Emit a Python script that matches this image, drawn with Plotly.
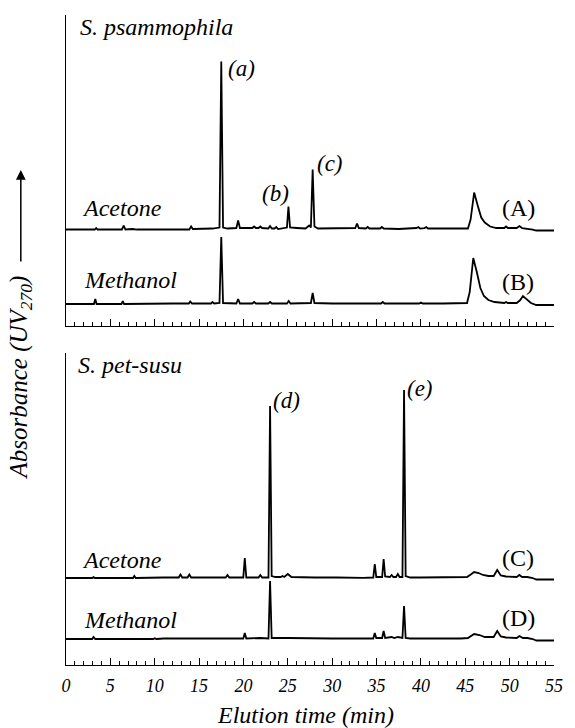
import plotly.graph_objects as go

# ---------------- data (elution time in min, absorbance in arbitrary units above baseline) -------------
acetone_A = [(0, 0), (3.25, 0), (3.4, 1.5), (3.55, 0), (6.3, 0), (6.5, 4), (6.7, 0), (7.5, 0.5), (8.0, 0),
             (10.5, 0.5), (11, 0), (13.9, 0), (14.1, 3), (14.3, 0.5), (15.0, 0.5), (16.0, 0.8), (16.5, 1),
             (17.3, 2), (17.5, 168), (17.7, 2), (18.2, 1), (19.2, 1.5), (19.4, 9), (19.6, 1.5), (20.5, 1.5),
             (21.0, 1.5), (21.2, 3), (21.4, 1.5), (21.7, 1.5), (21.9, 3), (22.1, 1.5), (22.8, 1), (23.0, 3.5),
             (23.2, 1), (23.5, 1), (23.7, 2.5), (23.9, 0.5), (24.4, 1), (24.9, 2), (25.07, 23), (25.25, 2),
             (26.0, 1.5), (27.0, 1), (27.4, 4), (27.6, 2), (27.8, 60), (28.0, 3), (28.4, 1), (29.5, 1),
             (31.0, 1.5), (32.6, 1.5), (32.8, 6), (33.0, 1.5), (33.8, 1), (34.0, 2.5), (34.2, 1), (35.4, 1),
             (35.6, 2.5), (35.8, 1), (37.5, 0.5), (39.5, 1.5), (39.7, 2.5), (39.9, 1), (40.4, 1.5), (40.6, 2.5),
             (40.8, 1), (42.0, 1), (43.2, 1.5), (44.5, 1), (45.3, 1), (45.6, 10), (46.0, 37), (46.4, 24),
             (46.8, 12), (47.2, 7), (47.8, 3), (48.5, 1.5), (49.4, 1.5), (49.6, 3), (49.8, 1.5), (50.8, 1.5),
             (51.1, 3.5), (51.4, 1.5), (52.0, 1), (52.6, 0), (53.0, -1), (55, -1)]

methanol_B = [(0, 0), (3.15, 0), (3.3, 5), (3.45, 0), (6.25, 0), (6.4, 3), (6.55, 0), (9, 0.5), (12, 0.5),
              (13.85, 0.5), (14.0, 2.5), (14.2, 0.5), (16.35, 0.5), (16.5, 2), (16.7, 0.5), (17.3, 1),
              (17.5, 67), (17.7, 1), (18.3, 0.5), (19.2, 0.5), (19.4, 5), (19.6, 0.5), (21.0, 0.5), (21.2, 2),
              (21.4, 0.5), (22.8, 0.5), (23.0, 2), (23.2, 0.5), (24.9, 0.5), (25.1, 3), (25.3, 0.5), (27.6, 1),
              (27.8, 11), (28.0, 1), (30, 0.5), (32.8, 0.5), (33, 0.5), (35.5, 0.5), (35.7, 2), (35.9, 0.5),
              (38, 0.5), (39.8, 0.5), (40.0, 1.5), (40.2, 0.5), (42.5, 0.5), (44.5, 0.5), (45.2, 1),
              (45.5, 12), (45.9, 46), (46.3, 32), (46.7, 16), (47.1, 8), (47.6, 4), (48.3, 2), (49.4, 1),
              (49.6, 2), (49.8, 1), (50.8, 1), (51.2, 4), (51.5, 8), (51.9, 5), (52.4, 1), (53.0, -1), (55, -1)]

acetone_C = [(0, 0), (2.95, 0), (3.1, 1), (3.25, 0), (7.55, 0), (7.7, 2), (7.85, 0), (9.5, 0.5), (10, 0),
             (11, 0.5), (12.7, 0.5), (12.9, 3.5), (13.1, 0.5), (13.7, 0.5), (13.9, 3.5), (14.1, 0.5),
             (15.5, 0.5), (18.0, 0.5), (18.2, 3), (18.4, 0.5), (19.98, 0.5), (20.15, 20), (20.32, 0.5),
             (21.7, 0.5), (21.9, 3), (22.1, 0.5), (22.82, 0.5), (23.0, 172), (23.18, 2), (23.6, 1),
             (24.2, 1), (24.4, 2), (24.6, 1), (25.0, 4), (25.4, 1), (26.5, 0.5), (28, 0.5), (30.5, 0.5),
             (31.5, 0.2), (33.5, 0.2), (34.63, 0.5), (34.8, 14), (34.97, 1), (35.3, 1), (35.63, 1),
             (35.8, 19), (35.97, 1.5), (36.5, 1), (36.7, 3), (36.9, 1), (37.2, 1), (37.4, 4), (37.6, 1),
             (37.92, 1), (38.1, 188), (38.28, 2), (38.8, 0.5), (40, 0.5), (41.5, 0.5), (43, 0.5), (44.5, 0.5),
             (45.2, 1), (45.7, 4), (46.0, 6), (46.5, 5), (47.0, 3), (47.6, 2), (48.2, 2), (48.6, 8),
             (49.0, 2.5), (49.6, 1.5), (50.8, 1), (51.1, 3), (51.4, 1), (52.0, 1), (52.6, 0), (53, -1.5),
             (55, -1.5)]

methanol_D = [(0, 0), (2.95, 0), (3.1, 2), (3.3, 0), (9.8, 0), (10, 0.7), (10.2, 0), (11, 0.5), (14, 0.5),
              (18.2, 1), (19.98, 0.5), (20.15, 6), (20.32, 0.5), (21.9, 1), (22.82, 0.5), (23.0, 58),
              (23.18, 1), (25.0, 1), (27, 0.5), (30, 0.5), (33, 0.5), (34.63, 0.5), (34.8, 6), (34.97, 1),
              (35.63, 1), (35.8, 8), (35.97, 1), (36.7, 2), (37.0, 1), (37.4, 2), (37.92, 1), (38.1, 33),
              (38.28, 1), (38.8, 0.5), (44.5, 0.5), (45.3, 1), (46.0, 5), (46.6, 4), (47.2, 2), (48.2, 2),
              (48.6, 8), (49.0, 2.5), (49.6, 1.5), (50.8, 1), (51.1, 3), (51.5, 1), (52.0, 1), (52.6, 0),
              (53, -1.5), (55, -1.5)]

major_ticks = [0, 5, 10, 15, 20, 25, 30, 35, 40, 45, 50, 55]
tick_labels = ["0", "5", "10", "15", "20", "25", "30", "35", "40", "45", "50", "55"]

# vertical stacking offsets of the traces in each panel
OFF_A, OFF_B = 96.5, 22
OFF_C, OFF_D = 87, 26

FONT = "Liberation Serif, Times New Roman, Times, serif"

fig = go.Figure()
for pts, off, xa, ya in [(acetone_A, OFF_A, "x", "y"), (methanol_B, OFF_B, "x", "y"),
                         (acetone_C, OFF_C, "x2", "y2"), (methanol_D, OFF_D, "x2", "y2")]:
    fig.add_trace(go.Scatter(x=[p[0] for p in pts], y=[p[1] + off for p in pts], mode="lines",
                             line=dict(color="black", width=1.8), xaxis=xa, yaxis=ya,
                             showlegend=False, hoverinfo="skip"))

xcommon = dict(range=[0, 55], showline=True, linecolor="black", linewidth=1, ticks="inside",
               tickvals=major_ticks, ticktext=tick_labels, ticklen=7, tickwidth=1, tickcolor="black",
               showgrid=False, zeroline=False,
               minor=dict(dtick=1, tick0=0, ticks="inside", ticklen=4, tickwidth=1, tickcolor="black",
                          showgrid=False))
ycommon = dict(showline=True, linecolor="black", linewidth=1, ticks="inside", ticklen=3, tickwidth=1,
               tickcolor="black", showticklabels=False, showgrid=False, zeroline=False)

fig.update_layout(
    width=575, height=728,
    margin=dict(l=66, r=12, t=15, b=63),
    paper_bgcolor="white", plot_bgcolor="white",
    xaxis=dict(**xcommon, domain=[0, 1], anchor="y", showticklabels=False),
    xaxis2=dict(**xcommon, domain=[0, 1], anchor="y2", showticklabels=True,
                tickfont=dict(family=FONT, size=18, style="italic", color="black"), ticklabelstandoff=4),
    yaxis=dict(**ycommon, domain=[0.5215, 1], range=[0, 311], anchor="x", tickvals=[OFF_A, OFF_B]),
    yaxis2=dict(**ycommon, domain=[0, 0.48], range=[0, 312], anchor="x2", tickvals=[OFF_C, OFF_D]),
)

def label(text, x, y, xref, yref, size=24, italic=True):
    fig.add_annotation(text=text, x=x, y=y, xref=xref, yref=yref, xanchor="left", yanchor="middle",
                       showarrow=False, borderpad=0,
                       font=dict(family=FONT, size=size, color="black",
                                 style="italic" if italic else "normal"))

# top panel
label("S. psammophila", 1.5, 299, "x", "y")
label("(a)", 18.1, 258, "x", "y", 23)
label("(b)", 22.0, 133, "x", "y", 23)
label("(c)", 28.2, 163, "x", "y", 23)
label("Acetone", 1.7, 118, "x", "y")
label("Methanol", 1.9, 46, "x", "y")
label("(A)", 49.0, 118, "x", "y", 24, italic=False)
label("(B)", 49.0, 44, "x", "y", 24, italic=False)
# bottom panel
label("S. pet-susu", 1.2, 300, "x2", "y2")
label("(d)", 23.2, 265, "x2", "y2", 23)
label("(e)", 38.3, 277, "x2", "y2", 23)
label("Acetone", 1.7, 105, "x2", "y2")
label("Methanol", 1.9, 45, "x2", "y2")
label("(C)", 49.0, 107, "x2", "y2", 24, italic=False)
label("(D)", 49.0, 47, "x2", "y2", 24, italic=False)

# axis titles
fig.add_annotation(text="Elution time (min)", x=0.491, y=-0.077, xref="paper", yref="paper",
                   xanchor="center", yanchor="middle", showarrow=False,
                   font=dict(family=FONT, size=24, style="italic", color="black"))
fig.add_annotation(text="Absorbance (UV<sub>270</sub>)", x=-0.0926, y=0.442, xref="paper", yref="paper",
                   xanchor="center", yanchor="middle", showarrow=False, textangle=-90,
                   font=dict(family=FONT, size=25, style="italic", color="black"))
fig.add_annotation(text="", x=-0.0926, y=0.7615, xref="paper", yref="paper", showarrow=True,
                   ax=0, ay=93, arrowhead=2, arrowsize=1.3, arrowwidth=1.5, arrowcolor="black")

fig.write_html("out.html")
